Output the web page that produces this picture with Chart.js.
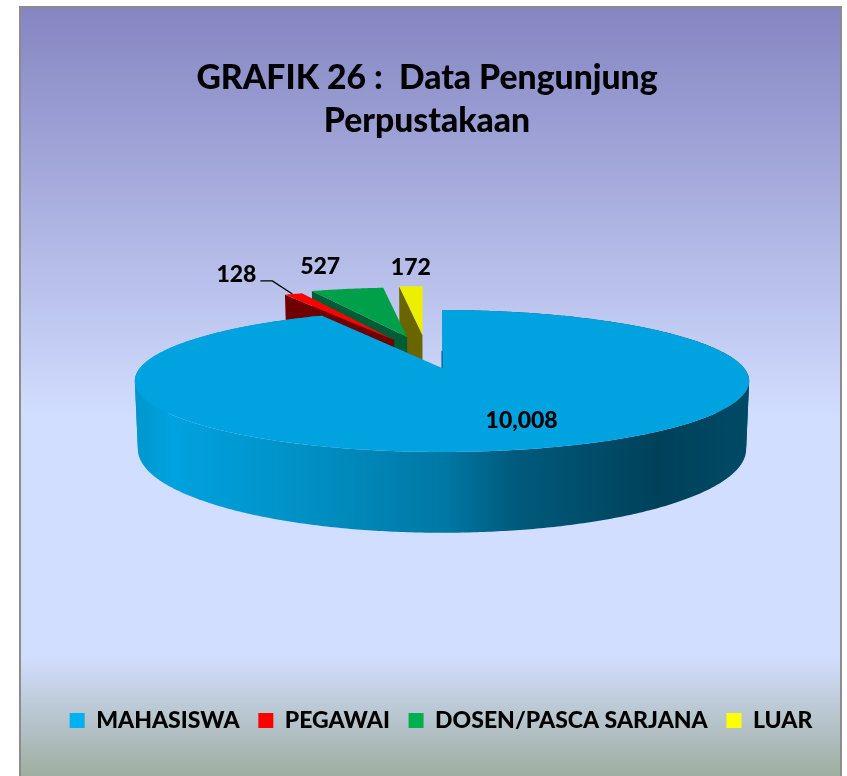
<!DOCTYPE html>
<html><head><meta charset="utf-8">
<style>html,body{margin:0;padding:0;background:#fff}canvas{display:block}#w{width:847px;height:776px;position:relative}</style>
<script src="https://cdn.jsdelivr.net/npm/chart.js@4"></script>
</head><body><div id="w"><canvas id="c" width="847" height="776"></canvas></div>
<script>
const categories = ['MAHASISWA','PEGAWAI','DOSEN/PASCA SARJANA','LUAR'];
const visitors = [10008,128,527,172];
const valueLabels = ['10,008','128','527','172'];
const titleLines = ['GRAFIK 26 :  Data Pengunjung','Perpustakaan'];
const legendColors = ['#00b0f0','#ff0000','#00b050','#ffff00'];
const topColors = ['#00a2e0','#ff0000','#00a04a','#eeee00'];
const wallColors = ['#004a68','#6e0000','#005c35','#6b6500'];

const FONT = 'Lato';
const view = {cx:442, cy:368, R:302, A:68.6, k:0.183, H:66, lower:0.99};
const explode = [[0,0],[-0.185,-0.441],[-0.148,-0.493],[-0.082,-0.527]];
const apexNudge = [0,0.014,0.022,0.011];
const labelAt = [[0.62,0.78,28,-8],[1,1,-57,-19],[1,1,-27,-22],[1,1,0,-19]];

function proj(u,v,low){
  const w = 1 - view.k*v, s = low ? view.lower : 1;
  return [view.cx + s*view.R*u/w, view.cy + (view.A*v + (low?view.H:0))/w];
}
function wedgePts(a0,a1,ex){
  const pts=[]; const n=Math.max(4,Math.ceil((a1-a0)/0.01));
  for(let i=0;i<=n;i++){ const t=a0+(a1-a0)*i/n; pts.push([ex[0]+Math.cos(t),ex[1]+Math.sin(t)]); }
  return pts;
}
function poly(ctx,pts,low){ ctx.beginPath(); pts.forEach((p,i)=>{const q=proj(p[0],p[1],low); i?ctx.lineTo(q[0],q[1]):ctx.moveTo(q[0],q[1]);}); ctx.closePath(); }
function fillBand(ctx,pts,fill){
  ctx.beginPath();
  pts.forEach((p,j)=>{const q=proj(p[0],p[1]);j?ctx.lineTo(q[0],q[1]):ctx.moveTo(q[0],q[1]);});
  for(let j=pts.length-1;j>=0;j--){const q=proj(pts[j][0],pts[j][1],true);ctx.lineTo(q[0],q[1]);}
  ctx.closePath();ctx.fillStyle=fill;ctx.fill();
}

const pie3d = {
  id:'pie3d',
  beforeDraw(chart){
    const ctx=chart.ctx; ctx.save();
    ctx.fillStyle='#fff'; ctx.fillRect(0,0,847,776);
    const g=ctx.createLinearGradient(0,7,0,776);
    g.addColorStop(0,'#8585c2'); g.addColorStop(0.537,'#d2deff'); g.addColorStop(0.843,'#d2deff'); g.addColorStop(1,'#9eaea0');
    ctx.fillStyle=g; ctx.fillRect(20,7,821,775);
    ctx.strokeStyle='#8c8c8c'; ctx.lineWidth=2; ctx.strokeRect(20,7,821,775);
    ctx.restore();
  },
  afterLayout(chart){ chart.legend.left+=14; chart.legend.right+=14; },
  beforeDatasetDraw(chart){
    const ctx=chart.ctx, arcs=chart.getDatasetMeta(0).data;
    ctx.save();
    [3,2,1,0].forEach(i=>{
      const a=arcs[i], ex=explode[i];
      const rim=wedgePts(a.startAngle,a.endAngle,ex);
      const apex=[ex[0]+apexNudge[i],ex[1]];
      // the cut wall on the clockwise-start side is the one facing the viewer
      const e0=proj(apex[0],apex[1]),e1=proj(rim[0][0],rim[0][1]),e2=proj(rim[0][0],rim[0][1],true),e3=proj(apex[0],apex[1],true);
      ctx.beginPath();[e0,e1,e2,e3].forEach((q,j)=>j?ctx.lineTo(q[0],q[1]):ctx.moveTo(q[0],q[1]));ctx.closePath();
      ctx.fillStyle=wallColors[i];ctx.fill();
      if(i===0){
        const g=ctx.createLinearGradient(135,0,750,0);
        g.addColorStop(0,'#0096cc');g.addColorStop(0.06,'#00a2e0');g.addColorStop(0.28,'#0090c4');
        g.addColorStop(0.5,'#0078a5');g.addColorStop(0.62,'#005a7c');g.addColorStop(0.85,'#00415a');g.addColorStop(1,'#004a66');
        let start=0, dir=0;
        for(let j=1;j<rim.length;j++){
          const d=Math.sign(proj(rim[j][0],rim[j][1])[0]-proj(rim[j-1][0],rim[j-1][1])[0]);
          if(dir&&d&&d!==dir){fillBand(ctx,rim.slice(start,j),g);start=j-1;}
          if(d)dir=d;
        }
        fillBand(ctx,rim.slice(start),g);
      }
      poly(ctx,[apex].concat(rim));ctx.fillStyle=topColors[i];ctx.fill();
      if(i===0){
        const t=proj(apex[0]+0.26*Math.cos(a.startAngle),apex[1]+0.26*Math.sin(a.startAngle));
        ctx.beginPath();ctx.moveTo(e0[0],e0[1]);ctx.lineTo(t[0],t[1]);ctx.strokeStyle=wallColors[0];ctx.lineWidth=1;ctx.stroke();
      }
    });
    ctx.fillStyle='#000';ctx.font='900 23px '+FONT;ctx.textAlign='center';ctx.textBaseline='middle';
    arcs.forEach((a,i)=>{
      const m=(a.startAngle+a.endAngle)/2,l=labelAt[i],ex=explode[i];
      const q=proj(ex[0]+l[0]*Math.cos(m),ex[1]+l[1]*Math.sin(m));
      ctx.fillText(valueLabels[i],q[0]+l[2],q[1]+l[3]);
      if(i===1){
        const r=proj(ex[0]+Math.cos(m),ex[1]+Math.sin(m));
        ctx.beginPath();ctx.moveTo(r[0]-33,r[1]-13);ctx.lineTo(r[0]-21,r[1]-13);ctx.lineTo(r[0]-1,r[1]);
        ctx.strokeStyle='#000';ctx.lineWidth=1.3;ctx.stroke();
      }
    });
    ctx.restore();
    return false;
  }
};
new Chart(document.getElementById('c'),{
  type:'pie',
  data:{labels:categories,datasets:[{data:visitors,backgroundColor:legendColors,borderWidth:0}]},
  options:{
    responsive:false,animation:false,rotation:0,
    layout:{padding:{left:20,right:13,top:57,bottom:34}},
    plugins:{
      title:{display:true,text:titleLines,color:'#000',font:{family:FONT,weight:'900',size:33.7,lineHeight:1.275},padding:{top:0,bottom:10}},
      legend:{position:'bottom',labels:{color:'#000',boxWidth:15,boxHeight:15,padding:18.7,font:{family:FONT,weight:'900',size:23}}},
      tooltip:{enabled:false}
    }
  },
  plugins:[pie3d]
});
</script></body></html>
